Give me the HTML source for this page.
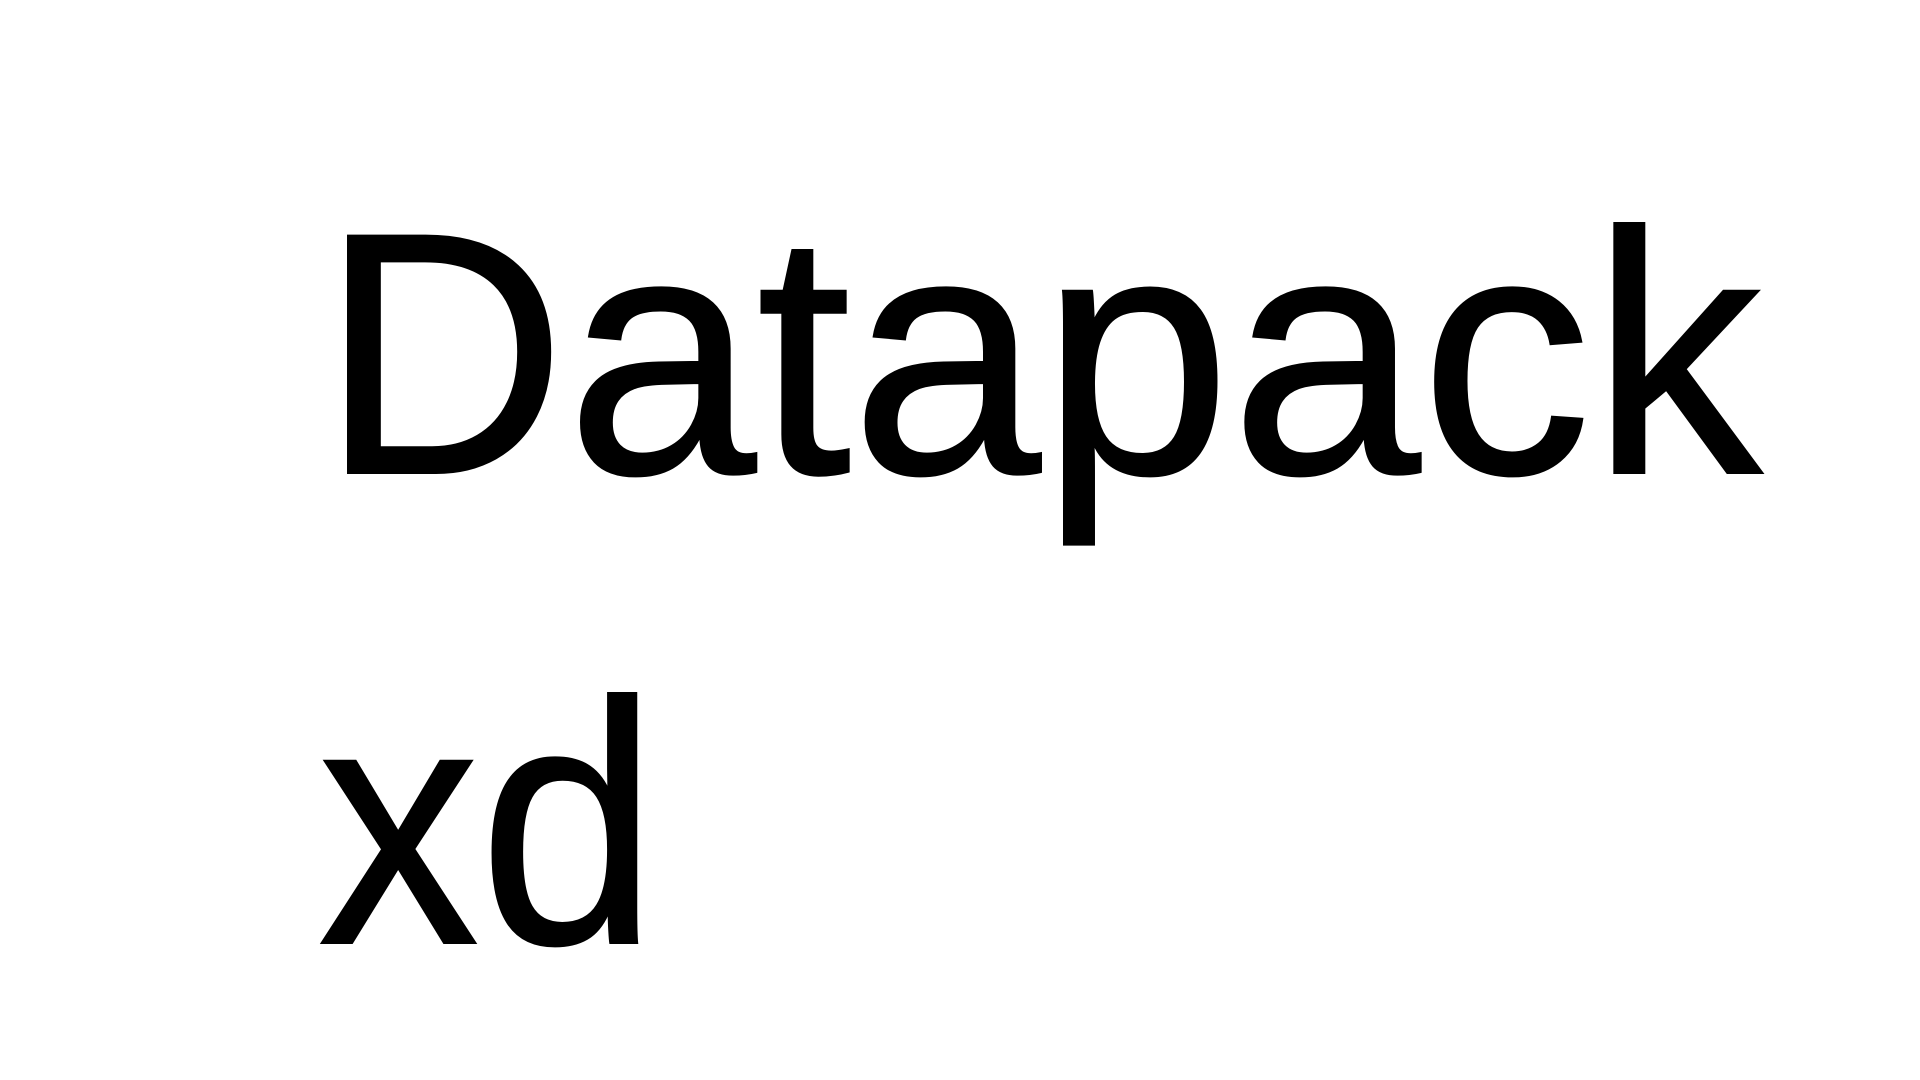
<!DOCTYPE html>
<html>
<head>
<meta charset="utf-8">
<style>
  html,body{margin:0;padding:0;background:#fff;width:1920px;height:1080px;overflow:hidden;}
  svg{display:block;}
  text{font-family:"Liberation Sans",sans-serif;fill:#000;stroke:#000;stroke-width:2;}
</style>
</head>
<body>
<svg width="1920" height="1080" viewBox="0 0 1920 1080" xmlns="http://www.w3.org/2000/svg">
  <rect width="1920" height="1080" fill="#fff"/>
  <text x="320" y="473" font-size="345" textLength="1442" lengthAdjust="spacingAndGlyphs">Datapack</text>
  <text x="318" y="943" font-size="345" textLength="340" lengthAdjust="spacingAndGlyphs">xd</text>
</svg>
</body>
</html>
